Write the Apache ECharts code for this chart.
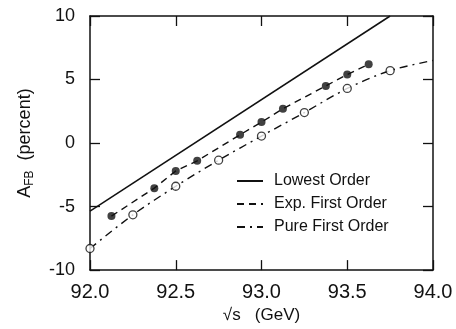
<!DOCTYPE html>
<html>
<head>
<meta charset="utf-8">
<script src="https://cdn.jsdelivr.net/npm/echarts@6/dist/echarts.min.js"></script>
<style>
  html, body { margin: 0; padding: 0; background: #fff; }
  #chart { width: 456px; height: 329px; }
</style>
</head>
<body>
<div id="chart"></div>
<script>
// values
const xTicks = [92.0, 92.5, 93.0, 93.5, 94.0];
const yTicks = [-10, -5, 0, 5, 10];

// lowest order (solid)
const lowestX = [92.0, 93.75];
const lowestY = [-5.35, 10.0];

// exp. first order (dashed, filled dots)
const expX = [92.125, 92.375, 92.5, 92.625, 92.875, 93.0, 93.125, 93.375, 93.5, 93.625];
const expY = [-5.75, -3.55, -2.2, -1.4, 0.65, 1.65, 2.7, 4.5, 5.4, 6.2];

// pure first order (dash-dot, open dots)
const pureX = [92.0, 92.25, 92.5, 92.75, 93.0, 93.25, 93.5, 93.75];
const pureY = [-8.3, -5.65, -3.4, -1.35, 0.55, 2.4, 4.3, 5.7];
const pureEndX = 94.0;
const pureEndY = 6.5;

const zip = (xs, ys) => xs.map((x, i) => [x, ys[i]]);

const font = 'Liberation Sans, Arial, sans-serif';
const black = '#111';

const chart = echarts.init(document.getElementById('chart'));

const frameAxis = {
  axisLine: { show: true, onZero: false, lineStyle: { color: black, width: 1.5 } },
  axisTick: { show: true, inside: true, length: 10, lineStyle: { color: black, width: 1.3 } },
  splitLine: { show: false }
};

const option = {
  animation: false,
  backgroundColor: '#fff',
  textStyle: { fontFamily: font, color: black },
  grid: { left: 90, right: 23, top: 16, bottom: 53 },
  legend: {
    orient: 'vertical',
    left: 231,
    top: 168,
    itemWidth: 26,
    itemHeight: 10,
    itemGap: 7,
    // hide the dot the line icon carries, keep the line
    itemStyle: { color: 'rgba(0,0,0,0)', borderWidth: 0, opacity: 0 },
    textStyle: { fontFamily: font, fontSize: 16, color: black, padding: [0, 0, 0, 6] },
    data: ['Lowest Order', 'Exp. First Order', 'Pure First Order']
  },
  xAxis: [
    Object.assign({}, frameAxis, {
      type: 'value', position: 'bottom',
      min: xTicks[0], max: xTicks[xTicks.length - 1], interval: 0.5,
      axisLabel: {
        fontSize: 20, color: black, margin: 12,
        formatter: v => v.toFixed(1)
      },
      name: '√s   (GeV)',
      nameLocation: 'middle',
      nameGap: 34,
      nameTextStyle: { fontSize: 17, color: black }
    }),
    Object.assign({}, frameAxis, {
      type: 'value', position: 'top',
      min: xTicks[0], max: xTicks[xTicks.length - 1], interval: 0.5,
      axisLabel: { show: false }
    })
  ],
  yAxis: [
    Object.assign({}, frameAxis, {
      type: 'value', position: 'left',
      min: yTicks[0], max: yTicks[yTicks.length - 1], interval: 5,
      axisLabel: { fontSize: 18, color: black, margin: 15 },
      name: '{a|A}{s|FB}   {a|(percent)}',
      nameLocation: 'middle',
      nameGap: 54,
      nameTextStyle: {
        rich: {
          a: { fontSize: 18, color: black, fontFamily: font, lineHeight: 22, verticalAlign: 'middle' },
          s: { fontSize: 12, color: black, fontFamily: font, lineHeight: 22, verticalAlign: 'bottom', padding: [6, 0, 0, 0] }
        }
      }
    }),
    Object.assign({}, frameAxis, {
      type: 'value', position: 'right',
      min: yTicks[0], max: yTicks[yTicks.length - 1], interval: 5,
      axisLabel: { show: false }
    })
  ],
  series: [
    {
      name: 'Lowest Order',
      type: 'line',
      symbol: 'none',
      data: zip(lowestX, lowestY),
      lineStyle: { color: black, width: 1.5, type: 'solid' },
      itemStyle: { color: black }
    },
    {
      name: 'Exp. First Order',
      type: 'line',
      symbol: 'none',
      data: zip(expX, expY),
      lineStyle: { color: black, width: 1.4, type: [7, 5] },
      itemStyle: { color: black }
    },
    {
      name: 'Pure First Order',
      type: 'line',
      symbol: 'none',
      smooth: 0.3,
      data: zip(pureX, pureY).concat([[pureEndX, pureEndY]]),
      lineStyle: { color: black, width: 1.4, type: [8, 5, 2, 5] },
      itemStyle: { color: black }
    },
    {
      name: 'expPoints',
      type: 'scatter',
      symbol: 'circle',
      symbolSize: 8,
      data: zip(expX, expY),
      itemStyle: { color: black },
      z: 5
    },
    {
      name: 'purePoints',
      type: 'scatter',
      symbol: 'circle',
      symbolSize: 8,
      data: zip(pureX, pureY),
      itemStyle: { color: '#fff', borderColor: black, borderWidth: 1.3 },
      z: 5
    }
  ]
};

chart.setOption(option);
</script>
</body>
</html>
